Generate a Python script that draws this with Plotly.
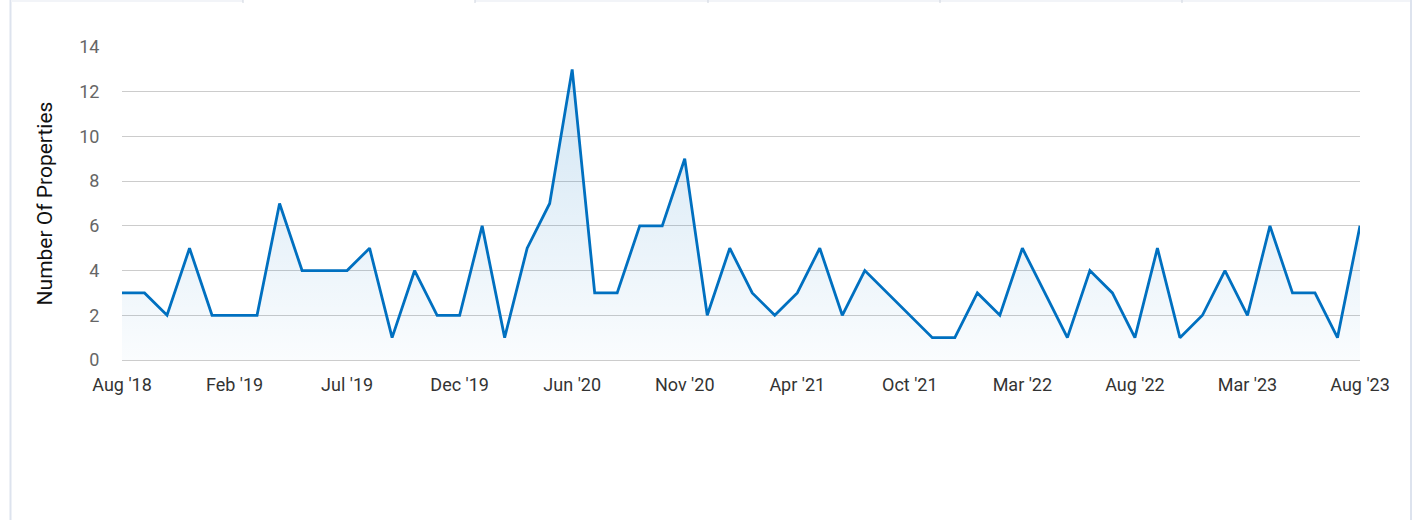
import plotly.graph_objects as go

months = ["Aug '18", "Sep '18", "Oct '18", "Nov '18", "Jan '19", "Feb '19",
          "Mar '19", "Apr '19", "May '19", "Jun '19", "Jul '19",
          "Aug '19", "Sep '19", "Oct '19", "Nov '19", "Dec '19",
          "Jan '20", "Feb '20", "Mar '20", "May '20", "Jun '20",
          "Jul '20", "Aug '20", "Sep '20", "Oct '20", "Nov '20",
          "Dec '20", "Jan '21", "Feb '21", "Mar '21", "Apr '21",
          "May '21", "Jun '21", "Jul '21", "Sep '21", "Oct '21",
          "Nov '21", "Dec '21", "Jan '22", "Feb '22", "Mar '22",
          "Apr '22", "May '22", "Jun '22", "Jul '22", "Aug '22",
          "Sep '22", "Oct '22", "Dec '22", "Feb '23", "Mar '23",
          "Apr '23", "May '23", "Jun '23", "Jul '23", "Aug '23"]

properties = [3, 3, 2, 5, 2, 2, 2, 7, 4, 4,
              4, 5, 1, 4, 2, 2, 6, 1, 5, 7,
              13, 3, 3, 6, 6, 9, 2, 5, 3, 2,
              3, 5, 2, 4, 3, 2, 1, 1, 3, 2,
              5, 3, 1, 4, 3, 1, 5, 1, 2, 4,
              2, 6, 3, 3, 1, 6]

tick_labels = months[::5]
y_ticks = [0, 2, 4, 6, 8, 10, 12, 14]

W, H = 1418, 520
L, R, T, B = 122, 58, 47, 160
PW, PH = W - L - R, H - T - B


def px(x):
    return (x - L) / PW


def py(y):
    return (H - B - y) / PH


fig = go.Figure()
fig.add_trace(go.Scatter(
    x=months, y=properties, mode="lines",
    line=dict(color="#0070c0", width=2.8),
    fill="tozeroy",
    fillgradient=dict(type="vertical",
                      colorscale=[[0, "rgba(0,112,192,0.02)"],
                                  [1, "rgba(0,112,192,0.18)"]]),
    hoverinfo="x+y", showlegend=False,
))

shapes = [
    dict(type="line", xref="paper", yref="paper", x0=px(10.5), x1=px(10.5),
         y0=py(0), y1=py(520), line=dict(color="#dde3ee", width=2)),
    dict(type="line", xref="paper", yref="paper", x0=px(1411), x1=px(1411),
         y0=py(0), y1=py(520), line=dict(color="#dde3ee", width=2)),
    dict(type="rect", xref="paper", yref="paper", x0=px(11), x1=px(243),
         y0=py(0), y1=py(2), fillcolor="#f2f4f8", line=dict(width=0)),
    dict(type="rect", xref="paper", yref="paper", x0=px(475), x1=px(1410),
         y0=py(0), y1=py(2), fillcolor="#f2f4f8", line=dict(width=0)),
]
for sx in [243, 475, 708, 940, 1182]:
    shapes.append(dict(type="line", xref="paper", yref="paper", x0=px(sx), x1=px(sx),
                       y0=py(0), y1=py(3), line=dict(color="#cfd5df", width=1)))

fig.update_layout(
    width=W, height=H,
    margin=dict(l=L, r=R, t=T, b=B),
    paper_bgcolor="white", plot_bgcolor="white",
    font=dict(family="Roboto", size=18, color="#333333"),
    shapes=shapes,
    xaxis=dict(
        type="category",
        range=[0, len(months) - 1],
        tickmode="array", tickvals=tick_labels, ticktext=tick_labels,
        showgrid=False, showline=False, zeroline=False,
        ticks="outside", ticklen=8, tickcolor="rgba(0,0,0,0)",
        tickfont=dict(family="Roboto", size=18, color="#333333"),
        tickangle=0,
    ),
    yaxis=dict(
        range=[0, 14],
        tickmode="array", tickvals=y_ticks,
        showgrid=True, gridcolor="#cccccc", gridwidth=1,
        zeroline=True, zerolinecolor="#cccccc", zerolinewidth=1,
        showline=False,
        ticks="outside", ticklen=18, tickcolor="rgba(0,0,0,0)",
        tickfont=dict(family="Roboto", size=18, color="#666666"),
        title=dict(text="Number Of Properties", standoff=20,
                   font=dict(family="Roboto", size=21, color="#111111")),
    ),
)

fig.write_html("out.html",
               config={"displayModeBar": False},
               post_script="document.body.style.margin='0';document.body.style.overflow='hidden';")
